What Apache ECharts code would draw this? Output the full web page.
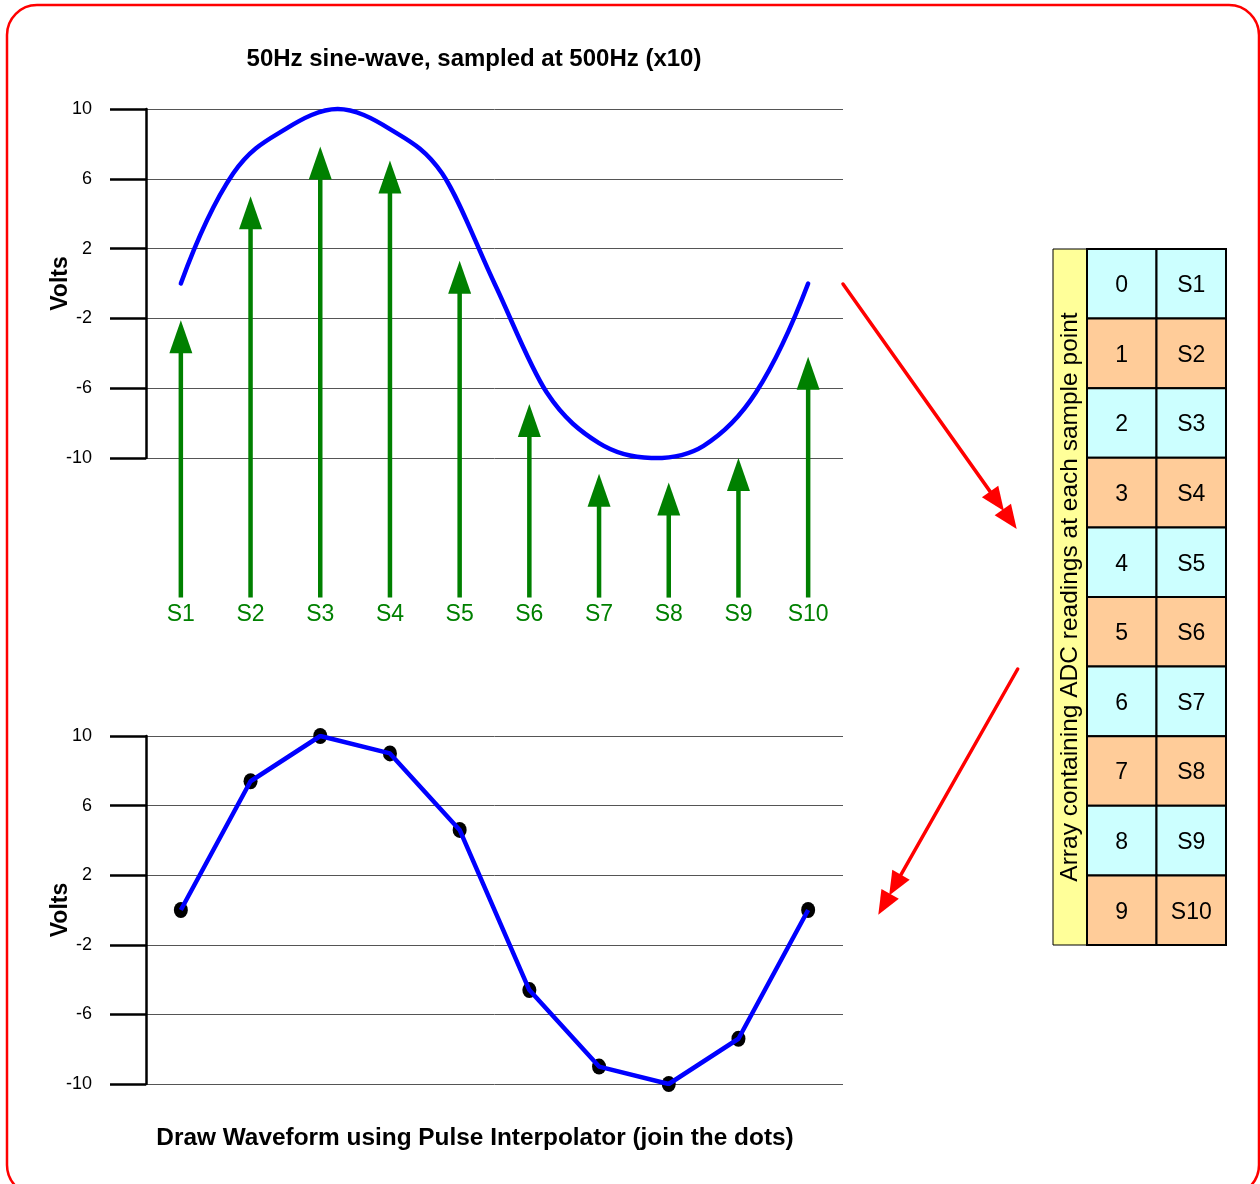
<!DOCTYPE html>
<html><head><meta charset="utf-8">
<script src="https://cdn.jsdelivr.net/npm/echarts@6/dist/echarts.min.js"></script>
<style>html,body{margin:0;padding:0;background:#fff}#c{width:1260px;height:1184px}</style>
</head><body><div id="c"></div>
<script>
// ---------- data ----------
const samples = ['S1','S2','S3','S4','S5','S6','S7','S8','S9','S10'];
const arrayIndex = ['0','1','2','3','4','5','6','7','8','9'];
const yMin = -10, yMax = 10, yInterval = 4;           // tick labels 10, 6, 2, -2, -6, -10
// points: [sample position, volts]
const sineCurve = [[1,0],[1.75,6.3],[2.5,8.85],[3.25,10],[4,8.85],[4.75,6.3],[5.5,0],
  [6.25,-6.25],[7,-9.15],[7.75,-10],[8.5,-9.3],[9.25,-6.25],[10,0]];
// green sample arrows: tip value and common base value
const arrowTips = [-2.1, 5.0, 7.85, 7.05, 1.3, -6.9, -10.9, -11.4, -10.0, -4.2];
const arrowBase = -18;
// reconstructed waveform (join the dots)
const sampleVolts = [0, 7.4, 10, 9.0, 4.6, -4.6, -9.0, -10, -7.4, 0];

const titleTop = '50Hz sine-wave, sampled at 500Hz (x10)';
const titleBottom = 'Draw Waveform using Pulse Interpolator (join the dots)';
const tableCaption = 'Array containing ADC readings at each sample point';

// ---------- chart ----------
const FONT = '"Liberation Sans", Arial, Helvetica, sans-serif';
const chart = echarts.init(document.getElementById('c'), null, {renderer: 'canvas'});

function voltAxis(gridIndex) {
  return {
    type: 'value', gridIndex, min: yMin, max: yMax, interval: yInterval,
    name: 'Volts', nameLocation: 'middle', nameRotate: 90, nameGap: 74, nameMoveOverlap: false,
    nameTextStyle: {fontFamily: FONT, fontSize: 23, fontWeight: 'bold', color: '#000'},
    axisLine: {show: true, onZero: false, lineStyle: {color: '#000', width: 2.5}},
    axisTick: {show: true, length: 36, lineStyle: {color: '#000', width: 2.5}},
    axisLabel: {show: true, margin: 54, fontFamily: FONT, fontSize: 18, color: '#000'},
    splitLine: {show: true, lineStyle: {color: '#555', width: 1}}
  };
}

const tableData = [];
for (let r = 0; r < samples.length; r++) { tableData.push([0, r]); tableData.push([1, r]); }

// slopes for a smooth (Hermite) curve through the read points
function curveSlopes(pts) {
  const n = pts.length;
  return pts.map((p, i) => {
    if (i === 0) {
      const h = pts[1][0] - pts[0][0];
      return (-3 * pts[0][1] + 4 * pts[1][1] - pts[2][1]) / (2 * h);
    }
    if (i === n - 1) {
      const h = pts[n - 1][0] - pts[n - 2][0];
      return (3 * pts[n - 1][1] - 4 * pts[n - 2][1] + pts[n - 3][1]) / (2 * h);
    }
    return (pts[i + 1][1] - pts[i - 1][1]) / (pts[i + 1][0] - pts[i - 1][0]);
  });
}

function arrowPoly(tip, ux, uy, len, hw) {
  const bx = tip[0] - ux * len, by = tip[1] - uy * len;
  return [[tip[0], tip[1]], [bx - uy * hw, by + ux * hw], [bx + uy * hw, by - ux * hw]];
}
function redArrow(x1, y1, x2, y2) {
  const dx = x2 - x1, dy = y2 - y1, L = Math.hypot(dx, dy), ux = dx / L, uy = dy / L;
  const tip1 = [x2 - ux * 22, y2 - uy * 22];
  return [
    {type: 'line', shape: {x1, y1, x2: tip1[0] - ux * 18, y2: tip1[1] - uy * 18},
      style: {stroke: '#FF0000', lineWidth: 3.5, lineCap: 'round'}},
    {type: 'polygon', shape: {points: arrowPoly(tip1, ux, uy, 24, 10)}, style: {fill: '#FF0000'}},
    {type: 'polygon', shape: {points: arrowPoly([x2, y2], ux, uy, 24, 10)}, style: {fill: '#FF0000'}}
  ];
}

const option = {
  backgroundColor: '#fff',
  animation: false,
  title: [
    {text: titleTop, left: 474, top: 47, textAlign: 'center', padding: 0,
      textStyle: {fontFamily: FONT, fontSize: 24, fontWeight: 'bold', color: '#000'}},
    {text: titleBottom, left: 475, top: 1126, textAlign: 'center', padding: 0,
      textStyle: {fontFamily: FONT, fontSize: 24.4, fontWeight: 'bold', color: '#000'}}
  ],
  grid: [
    {left: 146, top: 109, width: 697, height: 349, outerBoundsMode: 'none'},
    {left: 146, top: 736, width: 697, height: 348, outerBoundsMode: 'none'},
    {left: 1087, top: 249, width: 139, height: 696, outerBoundsMode: 'none'}
  ],
  xAxis: [
    {type: 'category', gridIndex: 0, data: samples, boundaryGap: true,
      axisLine: {show: false, onZero: false}, axisTick: {show: false}, splitLine: {show: false},
      axisLabel: {interval: 0, margin: 145, fontFamily: FONT, fontSize: 23, color: '#008000'}},
    {type: 'value', gridIndex: 0, min: 0.5, max: 10.5, show: false, splitLine: {show: false}},
    {type: 'category', gridIndex: 1, data: samples, boundaryGap: true, show: false,
      axisLine: {onZero: false}},
    {type: 'category', gridIndex: 2, data: ['index', 'sample'], show: false}
  ],
  yAxis: [
    voltAxis(0),
    voltAxis(1),
    {type: 'category', gridIndex: 2, data: arrayIndex, inverse: true, show: false}
  ],
  series: [
    {
      name: 'sample arrows', type: 'custom', xAxisIndex: 0, yAxisIndex: 0, clip: false, z: 2,
      data: arrowTips.map((v, i) => [i, v]),
      encode: {x: 0, y: 1},
      renderItem: (params, api) => {
        const i = api.value(0);
        const tip = api.coord([i, api.value(1)]);
        const base = api.coord([i, arrowBase]);
        const hh = 33, hw = 11.5;
        return {type: 'group', children: [
          {type: 'line', shape: {x1: base[0], y1: base[1], x2: tip[0], y2: tip[1] + hh - 1},
            style: {stroke: '#008000', lineWidth: 4.5}},
          {type: 'polygon', shape: {points: [[tip[0], tip[1]], [tip[0] - hw, tip[1] + hh], [tip[0] + hw, tip[1] + hh]]},
            style: {fill: '#008000'}}
        ]};
      }
    },
    {
      name: '50Hz sine', type: 'custom', xAxisIndex: 1, yAxisIndex: 0, clip: false, z: 3,
      data: [sineCurve[0]],
      encode: {x: 0, y: 1},
      renderItem: (params, api) => {
        const pts = sineCurve;
        const m = curveSlopes(pts);
        const p0 = api.coord(pts[0]);
        let d = 'M' + p0[0] + ' ' + p0[1];
        for (let i = 0; i < pts.length - 1; i++) {
          const h = pts[i + 1][0] - pts[i][0];
          const c1 = api.coord([pts[i][0] + h / 3, pts[i][1] + m[i] * h / 3]);
          const c2 = api.coord([pts[i + 1][0] - h / 3, pts[i + 1][1] - m[i + 1] * h / 3]);
          const p = api.coord(pts[i + 1]);
          d += ' C' + c1[0] + ' ' + c1[1] + ' ' + c2[0] + ' ' + c2[1] + ' ' + p[0] + ' ' + p[1];
        }
        return {type: 'path', shape: {pathData: d},
          style: {fill: 'none', stroke: '#0000FF', lineWidth: 4.5, lineCap: 'round', lineJoin: 'round'}};
      }
    },
    {
      name: 'dots', type: 'scatter', xAxisIndex: 2, yAxisIndex: 1, data: sampleVolts,
      symbol: 'circle', symbolSize: [14, 16], itemStyle: {color: '#000', opacity: 1}, z: 2
    },
    {
      name: 'joined', type: 'line', xAxisIndex: 2, yAxisIndex: 1, data: sampleVolts,
      symbol: 'none', z: 3, lineStyle: {color: '#0000FF', width: 4.5}
    },
    {
      name: 'ADC array', type: 'custom', xAxisIndex: 3, yAxisIndex: 2, data: tableData,
      encode: {x: 0, y: 1},
      renderItem: (params, api) => {
        const col = api.value(0), row = api.value(1);
        const c = api.coord([col, row]);
        const s = api.size([1, 1]);
        const txt = col === 0 ? arrayIndex[row] : samples[row];
        return {
          type: 'rect',
          shape: {x: c[0] - s[0] / 2, y: c[1] - s[1] / 2, width: s[0], height: s[1]},
          style: {fill: row % 2 ? '#FFCC99' : '#CCFFFF', stroke: '#000', lineWidth: 2},
          textContent: {style: {text: txt, fontFamily: FONT, fontSize: 23, fill: '#000'}},
          textConfig: {position: 'inside', offset: [0, 2]}
        };
      }
    }
  ],
  graphic: [
    {type: 'rect', silent: true, z: -1, shape: {x: 7, y: 5, width: 1252, height: 1190, r: 30},
      style: {fill: 'none', stroke: '#FF0000', lineWidth: 2.5}},
    {type: 'rect', z: 1, shape: {x: 1053, y: 249, width: 34, height: 696},
      style: {fill: '#FFFF99', stroke: '#000', lineWidth: 1}},
    {type: 'text', z: 2, x: 1070, y: 597, rotation: Math.PI / 2,
      style: {text: tableCaption, fontFamily: FONT, fontSize: 24.5, fill: '#000', align: 'center', verticalAlign: 'middle'}},
    ...redArrow(843, 284, 1016.7, 529),
    ...redArrow(1017.7, 669, 878.3, 914.7)
  ]
};
chart.setOption(option);
</script>
</body></html>
